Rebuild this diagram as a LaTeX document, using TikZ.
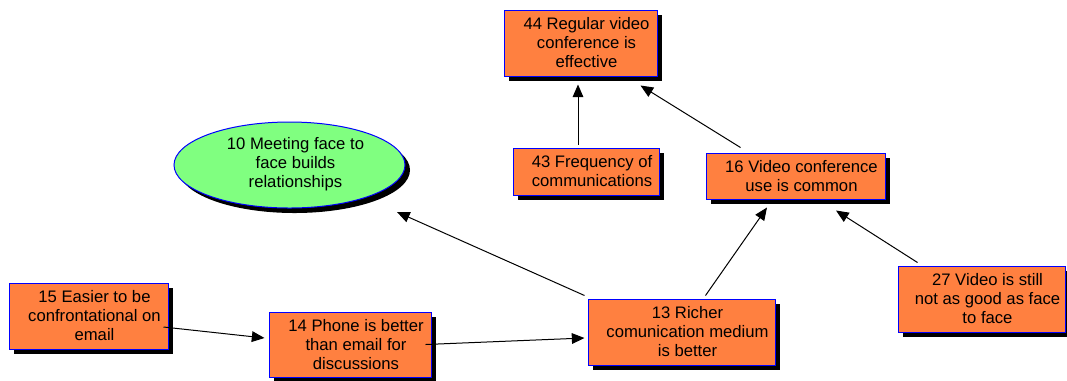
\documentclass[tikz,border=0pt]{standalone}
\usepackage{fontspec}
\setmainfont{Liberation Sans}
\usetikzlibrary{shapes.geometric,shadows,calc,arrows.meta}
\definecolor{boxfill}{RGB}{255,128,64}
\definecolor{ovalfill}{RGB}{128,255,128}
\definecolor{edgeblue}{RGB}{0,0,255}
\begin{document}
\begin{tikzpicture}[x=0.75pt,y=-0.75pt,
  label text/.style={font=\fontsize{12.5pt}{14.25pt}\selectfont, align=center, text=black,
    inner sep=0pt, xshift=4.5pt},
  shadowed/.style={general shadow={fill=black, shadow xshift=3.75pt, shadow yshift=-3.75pt}},
  claim/.style={rectangle, draw=edgeblue, line width=0.75pt, fill=boxfill, inner sep=0pt,
    shadowed},
  belief/.style={ellipse, draw=edgeblue, line width=0.75pt, fill=ovalfill, inner sep=0pt,
    shadowed},
  link/.style={line width=0.75pt, -{Triangle[length=9.5pt,width=8pt]}}]
\useasboundingbox (0,0) rectangle (1067,380);

% shapes
\node[claim, minimum width=153*0.75pt, minimum height=66*0.75pt] (n44) at (580.5,43) {};
\node[belief, minimum width=231*0.75pt, minimum height=86*0.75pt] (n10) at (289.5,165) {};
\node[claim, minimum width=146*0.75pt, minimum height=47*0.75pt] (n43) at (586,171.5) {};
\node[claim, minimum width=179*0.75pt, minimum height=46*0.75pt] (n16) at (795.5,176) {};
\node[claim, minimum width=159*0.75pt, minimum height=66*0.75pt] (n15) at (88.5,316) {};
\node[claim, minimum width=162*0.75pt, minimum height=65*0.75pt] (n14) at (350,344.5) {};
\node[claim, minimum width=187*0.75pt, minimum height=66*0.75pt] (n13) at (681.5,332) {};
\node[claim, minimum width=167*0.75pt, minimum height=66*0.75pt] (n27) at (981.5,299) {};

% texts
\node[label text] (t44) at (n44.center) {44 Regular video\\conference is\\effective};
\node[label text] (t10) at ($(n10.center)+(0,-1)$) {10 Meeting face to\\face builds\\relationships};
\node[label text] (t43) at (n43.center) {43 Frequency of\\communications};
\node[label text] (t16) at (n16.center) {16 Video conference\\use is common};
\node[label text] (t15) at (n15.center) {15 Easier to be\\confrontational on\\email};
\node[label text] (t14) at (n14.center) {14 Phone is better\\than email for\\discussions};
\node[label text] (t13) at (n13.center) {13 Richer\\comunication medium\\is better};
\node[label text] (t27) at (n27.center) {27 Video is still\\not as good as face\\to face};

% connectors
\draw[link] ($(n43.north)+(-8,-3)$) -- ($(n44.south)+(-2.5,8)$);
\draw[link] ($(n16.north west)+(35,-5)$) -- ($(n44.south east)+(-17,9)$);
\draw[link] ($(n13.north west)+(-3,-3)$) -- ($(n10.center)+(107.5,47)$);
\draw[link] ($(n13.north west)+(118,-3)$) -- ($(n16.south)+(-28.5,8)$);
\draw[link] ($(n27.north west)+(20,-3)$) -- ($(n16.south)+(40.5,11)$);
\draw[link] ($(n15.east)+(-5,11)$) -- ($(n14.west)+(-4,-6.5)$);
\draw[link] ($(n14.east)+(-6,0)$) -- ($(n13.west)+(-3,6)$);
\end{tikzpicture}
\end{document}
